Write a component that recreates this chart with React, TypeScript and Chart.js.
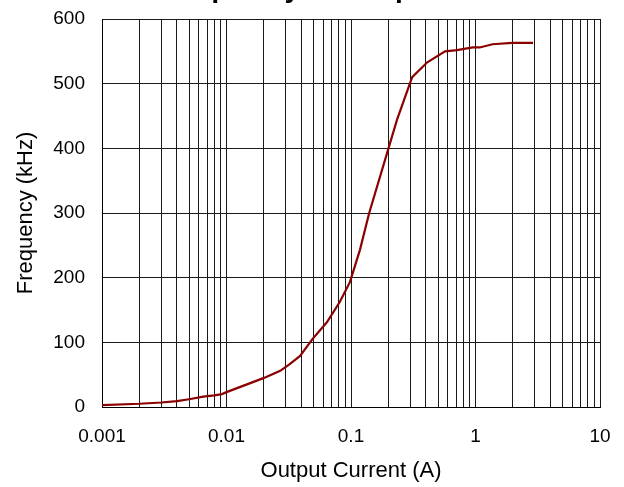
import React, { useEffect, useRef } from "react";
import { Chart, registerables } from "chart.js";

Chart.register(...registerables);

const chartTitle = "Frequency vs Output Current";
const xAxisTitle = "Output Current (A)";
const yAxisTitle = "Frequency (kHz)";

const currentA = [
  0.001, 0.002, 0.003, 0.004, 0.005, 0.0065, 0.008, 0.0092, 0.01, 0.0146, 0.02,
  0.027, 0.032, 0.039, 0.049, 0.064, 0.081, 0.098, 0.118, 0.14, 0.2, 0.234,
  0.31, 0.41, 0.57, 0.71, 0.95, 1.08, 1.37, 1.97, 2.9,
];
const frequencyKHz = [
  3, 5, 7, 9, 12, 16, 18, 20, 23, 35, 45,
  56, 66, 79, 105, 131, 162, 193, 243, 300, 400, 444,
  510, 533, 550, 552, 556, 556, 561, 563, 563,
];

const xDecades = [0.001, 0.01, 0.1, 1, 10];
const xDecadeLabels = ["0.001", "0.01", "0.1", "1", "10"];
const xMinorMultipliers = [1, 2, 3, 4, 5, 6, 7, 8, 9];
const yTicks = [0, 100, 200, 300, 400, 500, 600];

const FONT = "'Liberation Sans', Arial, Helvetica, sans-serif";

export default function App() {
  const ref = useRef<HTMLCanvasElement | null>(null);

  useEffect(() => {
    if (!ref.current) return;
    const xTickValues: number[] = [];
    xDecades.forEach((d, i) => {
      if (i === xDecades.length - 1) {
        xTickValues.push(d);
      } else {
        xMinorMultipliers.forEach((m) => xTickValues.push(Number((d * m).toPrecision(6))));
      }
    });

    const titlePlugin = {
      id: "topTitle",
      afterDraw(chart: any) {
        const { ctx, chartArea } = chart;
        ctx.save();
        ctx.font = `bold 28px ${FONT}`;
        ctx.fillStyle = "#000";
        ctx.textAlign = "center";
        ctx.textBaseline = "alphabetic";
        ctx.fillText(chartTitle, (chartArea.left + chartArea.right) / 2 + 2, -3);
        ctx.restore();
      },
    };

    const chart = new Chart(ref.current, {
      type: "line",
      data: {
        datasets: [
          {
            data: currentA.map((x, i) => ({ x, y: frequencyKHz[i] })),
            borderColor: "#8B0000",
            borderWidth: 2.2,
            pointRadius: 0,
            tension: 0,
            fill: false,
          },
        ],
      },
      options: {
        animation: false,
        responsive: true,
        maintainAspectRatio: false,
        layout: { padding: { left: 0, right: 24, top: 19, bottom: 0 } },
        plugins: {
          legend: { display: false },
          tooltip: { enabled: false },
          title: { display: false },
        },
        scales: {
          x: {
            type: "logarithmic",
            min: 0.001,
            max: 10,
            afterBuildTicks: (scale: any) => {
              scale.ticks = xTickValues.map((v) => ({ value: v }));
            },
            afterFit: (scale: any) => {
              scale.height = 80;
              scale.paddingLeft = 0;
              scale.paddingRight = 0;
            },
            ticks: {
              autoSkip: false,
              maxRotation: 0,
              padding: 18,
              color: "#000",
              font: { family: FONT, size: 19 },
              callback: (value: any) => {
                const idx = xDecades.findIndex((d) => Math.abs(d - Number(value)) / d < 1e-6);
                return idx >= 0 ? xDecadeLabels[idx] : "";
              },
            },
            grid: {
              color: "#1a1a1a",
              lineWidth: 1,
              drawTicks: false,
            },
            border: { display: true, color: "#000", width: 1 },
            title: {
              display: true,
              text: xAxisTitle,
              color: "#000",
              font: { family: FONT, size: 22 },
              padding: { top: 0, bottom: 3 },
            },
          },
          y: {
            type: "linear",
            min: 0,
            max: 600,
            afterBuildTicks: (scale: any) => {
              scale.ticks = yTicks.map((v) => ({ value: v }));
            },
            afterFit: (scale: any) => {
              scale.width = 102;
              scale.paddingTop = 0;
              scale.paddingBottom = 0;
            },
            ticks: {
              padding: 17,
              color: "#000",
              font: { family: FONT, size: 19 },
            },
            grid: {
              color: "#1a1a1a",
              lineWidth: 1,
              drawTicks: false,
            },
            border: { display: true, color: "#000", width: 1 },
            title: {
              display: true,
              text: yAxisTitle,
              color: "#000",
              font: { family: FONT, size: 22 },
              padding: { top: 13, bottom: 0 },
            },
          },
        },
      },
      plugins: [titlePlugin],
    });
    return () => chart.destroy();
  }, []);

  return (
    <div style={{ position: "absolute", left: 0, top: 0, width: 624, height: 487 }}>
      <canvas ref={ref} />
    </div>
  );
}
